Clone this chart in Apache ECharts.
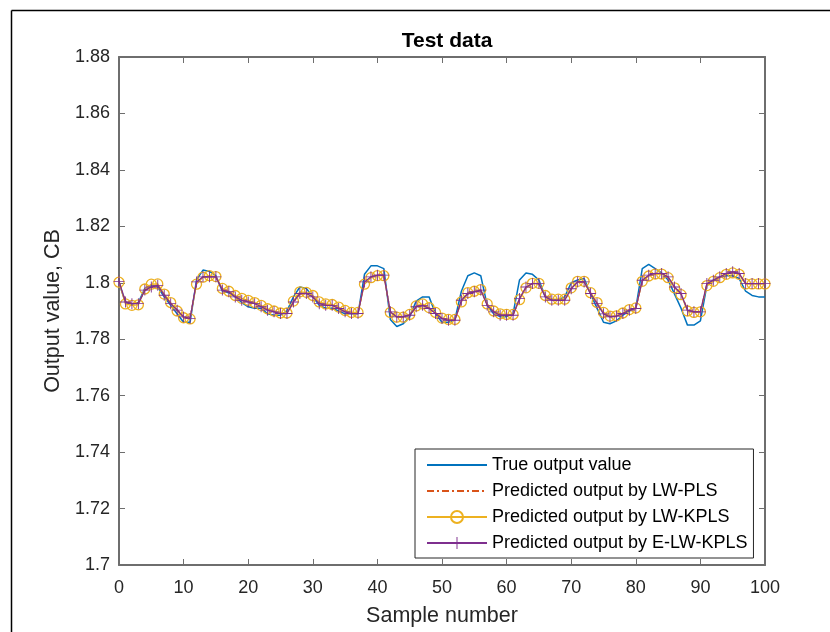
<!DOCTYPE html>
<html>
<head>
<meta charset="utf-8">
<script src="https://cdn.jsdelivr.net/npm/echarts@6/dist/echarts.min.js"></script>
<style>html,body{margin:0;padding:0;background:#fff;}#c{width:830px;height:632px;}</style>
</head>
<body>
<div id="c"></div>
<script>
var samples = [];
for (var k = 0; k <= 100; k++) samples.push(k);

var seriesNames = ['True output value', 'Predicted output by LW-PLS', 'Predicted output by LW-KPLS', 'Predicted output by E-LW-KPLS'];
var yTickLabels = ['1.7', '1.72', '1.74', '1.76', '1.78', '1.8', '1.82', '1.84', '1.86', '1.88'];
var xTickLabels = ['0', '10', '20', '30', '40', '50', '60', '70', '80', '90', '100'];

var trueOutput = [
1.8000,1.7930,1.7925,1.7930,1.7980,1.7990,1.7985,1.7950,1.7920,1.7890,
1.7860,1.7860,1.8010,1.8045,1.8040,1.8025,1.7970,1.7965,1.7950,1.7930,
1.7915,1.7910,1.7910,1.7890,1.7885,1.7885,1.7900,1.7950,1.7985,1.7980,
1.7950,1.7920,1.7910,1.7910,1.7900,1.7890,1.7890,1.7890,1.8030,1.8060,
1.8060,1.8050,1.7870,1.7845,1.7855,1.7880,1.7935,1.7950,1.7950,1.7890,
1.7860,1.7860,1.7870,1.7970,1.8025,1.8035,1.8025,1.7920,1.7890,1.7880,
1.7880,1.7890,1.8010,1.8035,1.8030,1.8010,1.7950,1.7940,1.7940,1.7950,
1.8000,1.8010,1.8015,1.7960,1.7910,1.7860,1.7855,1.7865,1.7885,1.7900,
1.7910,1.8050,1.8065,1.8050,1.8035,1.8010,1.7960,1.7910,1.7850,1.7850,
1.7865,1.7990,1.8010,1.8020,1.8025,1.8025,1.8015,1.7970,1.7955,1.7950,
1.7950];

var lwPls = [
1.8005,1.7935,1.7928,1.7928,1.7972,1.7983,1.7990,1.7957,1.7928,1.7905,
1.7881,1.7875,1.8000,1.8020,1.8022,1.8020,1.7975,1.7968,1.7952,1.7939,
1.7933,1.7927,1.7916,1.7905,1.7898,1.7892,1.7892,1.7930,1.7960,1.7961,
1.7950,1.7928,1.7921,1.7921,1.7910,1.7898,1.7892,1.7892,1.8000,1.8020,
1.8026,1.8026,1.7899,1.7881,1.7880,1.7886,1.7914,1.7920,1.7910,1.7893,
1.7875,1.7868,1.7868,1.7936,1.7960,1.7967,1.7972,1.7922,1.7898,1.7887,
1.7886,1.7886,1.7942,1.7983,1.7996,1.7996,1.7951,1.7939,1.7939,1.7939,
1.7977,1.8002,1.8002,1.7963,1.7927,1.7892,1.7880,1.7881,1.7891,1.7903,
1.7909,1.8007,1.8025,1.8032,1.8032,1.8020,1.7986,1.7963,1.7905,1.7898,
1.7898,1.7995,1.8008,1.8020,1.8032,1.8037,1.8032,1.7998,1.7997,1.7997,
1.7997];

var lwKpls = [
1.8002,1.7925,1.7920,1.7922,1.7978,1.7995,1.7996,1.7960,1.7930,1.7900,
1.7876,1.7872,1.7995,1.8020,1.8025,1.8022,1.7980,1.7970,1.7955,1.7945,
1.7938,1.7930,1.7920,1.7908,1.7900,1.7893,1.7893,1.7935,1.7968,1.7966,
1.7955,1.7932,1.7925,1.7923,1.7914,1.7902,1.7895,1.7895,1.7995,1.8018,
1.8025,1.8025,1.7895,1.7878,1.7878,1.7888,1.7918,1.7925,1.7912,1.7895,
1.7875,1.7870,1.7870,1.7932,1.7965,1.7970,1.7976,1.7925,1.7900,1.7890,
1.7888,1.7888,1.7940,1.7982,1.7998,1.7998,1.7955,1.7942,1.7942,1.7942,
1.7982,1.8005,1.8005,1.7965,1.7930,1.7895,1.7882,1.7883,1.7893,1.7905,
1.7911,1.8005,1.8024,1.8031,1.8031,1.8018,1.7982,1.7958,1.7900,1.7895,
1.7897,1.7990,1.8005,1.8018,1.8030,1.8035,1.8030,1.7996,1.7996,1.7996,
1.7996];

var eLwKpls = [
1.8005,1.7932,1.7926,1.7926,1.7974,1.7985,1.7991,1.7956,1.7926,1.7903,
1.7879,1.7873,1.8003,1.8021,1.8021,1.8021,1.7974,1.7968,1.7950,1.7938,
1.7932,1.7926,1.7915,1.7903,1.7897,1.7891,1.7891,1.7932,1.7962,1.7962,
1.7950,1.7926,1.7920,1.7920,1.7909,1.7897,1.7891,1.7891,1.8003,1.8021,
1.8027,1.8027,1.7897,1.7879,1.7879,1.7885,1.7915,1.7920,1.7909,1.7891,
1.7873,1.7867,1.7867,1.7938,1.7962,1.7968,1.7974,1.7920,1.7897,1.7885,
1.7885,1.7885,1.7944,1.7985,1.7997,1.7997,1.7950,1.7938,1.7938,1.7938,
1.7979,1.8003,1.8003,1.7962,1.7926,1.7890,1.7879,1.7882,1.7891,1.7903,
1.7909,1.8009,1.8027,1.8033,1.8033,1.8021,1.7985,1.7962,1.7903,1.7897,
1.7897,1.7997,1.8009,1.8021,1.8033,1.8039,1.8033,1.7997,1.7997,1.7997,
1.7997];

function pairs(arr) { return arr.map(function (v, i) { return [samples[i], v]; }); }

var axisColor = '#6e6e6e';
var textColor = '#262626';
var font = 'Liberation Sans, Arial, sans-serif';
var plusPath = 'path://M9.2,0H10.8V9.2H20V10.8H10.8V20H9.2V10.8H0V9.2H9.2Z';

var chart = echarts.init(document.getElementById('c'), null, { renderer: 'canvas' });
chart.setOption({
  animation: false,
  backgroundColor: '#fff',
  title: {
    text: 'Test data', left: 442, top: 26, textAlign: 'center',
    textStyle: { fontFamily: font, fontSize: 21, fontWeight: 'bold', color: '#000' }
  },
  grid: { left: 119, right: 65, top: 57, bottom: 67 },
  graphic: [
    { type: 'line', shape: { x1: 11.5, y1: 10.5, x2: 830, y2: 10.5 }, style: { stroke: '#000', lineWidth: 1.5 }, z: 100 },
    { type: 'line', shape: { x1: 11.5, y1: 10.5, x2: 11.5, y2: 632 }, style: { stroke: '#000', lineWidth: 1.5 }, z: 100 }
  ],
  legend: {
    orient: 'vertical', left: 415, top: 449,
    data: [
      { name: seriesNames[0], itemStyle: { opacity: 0 } },
      { name: seriesNames[1], itemStyle: { opacity: 0 } },
      { name: seriesNames[2] },
      { name: seriesNames[3] }
    ],
    itemWidth: 60, itemHeight: 15, itemGap: 8,
    padding: [7, 6, 6, 11],
    backgroundColor: '#fff', borderColor: '#262626', borderWidth: 1,
    textStyle: { fontFamily: font, fontSize: 18, color: '#000' }
  },
  xAxis: [{
    type: 'value', min: 0, max: 100, interval: 10, position: 'bottom',
    name: 'Sample number', nameLocation: 'middle', nameGap: 40,
    nameTextStyle: { fontFamily: font, fontSize: 21.5, color: textColor },
    axisLine: { onZero: false, lineStyle: { color: axisColor, width: 2 } },
    axisTick: { inside: true, length: 6, lineStyle: { color: axisColor, width: 1 } },
    axisLabel: { fontFamily: font, fontSize: 18, color: textColor, margin: 14,
      formatter: function (v) { return xTickLabels[Math.round(v / 10)]; } },
    splitLine: { show: false }
  }, {
    type: 'value', min: 0, max: 100, interval: 10, position: 'top',
    axisLine: { onZero: false, lineStyle: { color: axisColor, width: 2 } },
    axisTick: { inside: true, length: 6, lineStyle: { color: axisColor, width: 1 } },
    axisLabel: { show: false }, splitLine: { show: false }
  }],
  yAxis: [{
    type: 'value', min: 1.7, max: 1.88, interval: 0.02, position: 'left',
    name: 'Output value, CB', nameLocation: 'middle', nameGap: 51,
    nameTextStyle: { fontFamily: font, fontSize: 21.5, color: textColor },
    axisLine: { show: true, onZero: false, lineStyle: { color: axisColor, width: 2 } },
    axisTick: { show: true, inside: true, length: 6, lineStyle: { color: axisColor, width: 1 } },
    axisLabel: { fontFamily: font, fontSize: 18, color: textColor, margin: 9,
      formatter: function (v) { return yTickLabels[Math.round((v - 1.7) / 0.02)]; } },
    splitLine: { show: false }
  }, {
    type: 'value', min: 1.7, max: 1.88, interval: 0.02, position: 'right',
    axisLine: { show: true, onZero: false, lineStyle: { color: axisColor, width: 2 } },
    axisTick: { show: true, inside: true, length: 6, lineStyle: { color: axisColor, width: 1 } },
    axisLabel: { show: false }, splitLine: { show: false }
  }],
  series: [{
    name: seriesNames[0], type: 'line', data: pairs(trueOutput),
    symbol: 'none', smooth: false, z: 2,
    lineStyle: { color: '#0072BD', width: 1.5 }, itemStyle: { color: '#0072BD' }
  }, {
    name: seriesNames[1], type: 'line', data: pairs(lwPls),
    symbol: 'none', z: 3,
    lineStyle: { color: '#D95319', width: 1.3, type: [7, 3, 2, 3] }, itemStyle: { color: '#D95319' }
  }, {
    name: seriesNames[2], type: 'line', data: pairs(lwKpls),
    symbol: 'circle', symbolSize: 10, showAllSymbol: true, z: 4,
    lineStyle: { color: '#EDB120', width: 1.3 },
    itemStyle: { color: 'rgba(255,255,255,0)', borderColor: '#EDB120', borderWidth: 1.3 }
  }, {
    name: seriesNames[3], type: 'line', data: pairs(eLwKpls),
    symbol: plusPath, symbolSize: 11, showAllSymbol: true, z: 5,
    lineStyle: { color: '#7E2F8E', width: 1.3 },
    itemStyle: { color: '#7E2F8E' }
  }]
});
</script>
</body>
</html>
